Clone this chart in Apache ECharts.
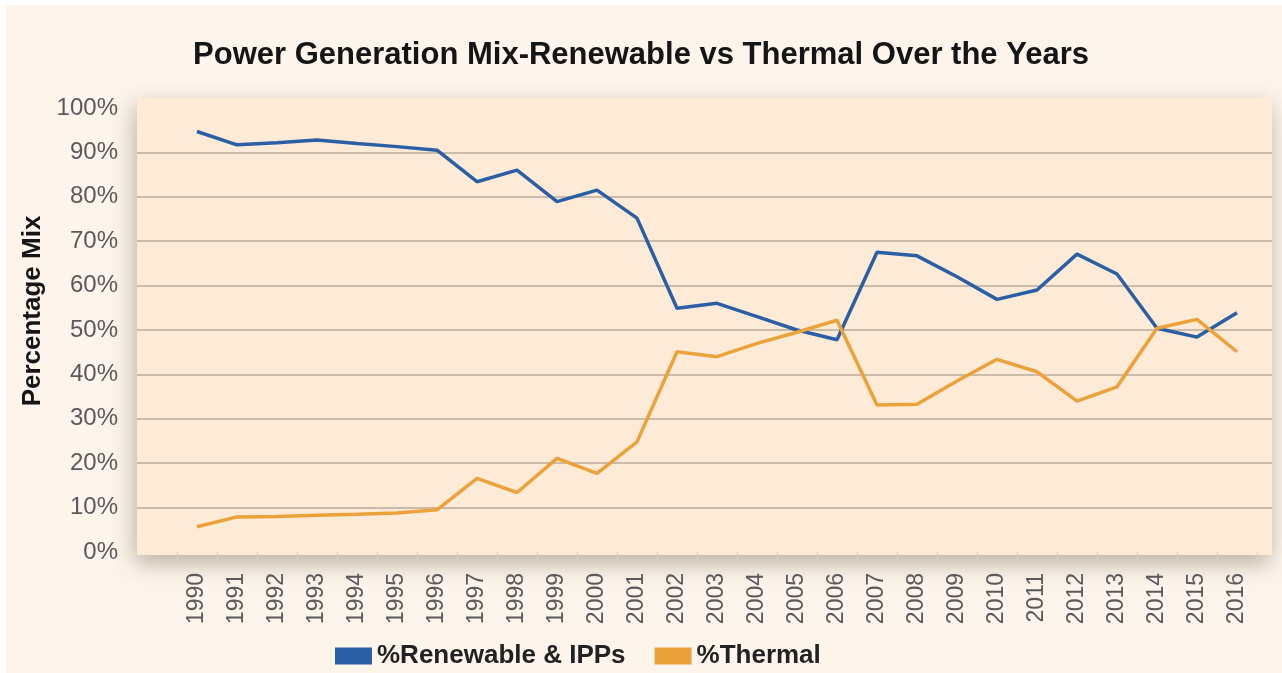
<!DOCTYPE html>
<html>
<head>
<meta charset="utf-8">
<script src="https://cdn.jsdelivr.net/npm/echarts@6/dist/echarts.min.js"></script>
<style>
  html, body { margin: 0; padding: 0; background: #ffffff; }
  #chart { width: 1282px; height: 673px; }
</style>
</head>
<body>
<div id="chart"></div>
<script>
var years = ['1990','1991','1992','1993','1994','1995','1996','1997','1998','1999','2000',
  '2001','2002','2003','2004','2005','2006','2007','2008','2009','2010','2011','2012',
  '2013','2014','2015','2016'];
var renewable = [94.7, 91.7, 92.2, 92.8, 92.0, 91.3, 90.5, 83.4, 86.0, 78.9, 81.5,
  75.2, 54.9, 56.0, 53.0, 50.0, 47.8, 67.5, 66.7, 62.0, 56.9, 59.0, 67.1,
  62.6, 50.4, 48.4, 53.9];
var thermal = [5.7, 7.9, 8.0, 8.3, 8.5, 8.8, 9.5, 16.6, 13.4, 21.1, 17.7,
  24.8, 45.1, 44.0, 47.0, 49.5, 52.2, 33.1, 33.3, 38.5, 43.4, 40.6, 34.0,
  37.2, 50.4, 52.4, 45.1];
var seriesNames = ['%Renewable & IPPs', '%Thermal'];

var font = 'Liberation Sans, Arial, sans-serif';
var myChart = echarts.init(document.getElementById('chart'));

var option = {
  backgroundColor: '#ffffff',
  graphic: [{
    type: 'rect',
    z: -10,
    shape: { x: 6, y: 5, width: 1282, height: 673 },
    style: { fill: '#fdf5ec' },
    silent: true
  }],
  title: {
    text: 'Power Generation Mix-Renewable vs Thermal Over the Years',
    left: 'center',
    top: 35,
    textStyle: { fontFamily: font, fontSize: 31, fontWeight: 'bold', color: '#151515' }
  },
  legend: {
    data: seriesNames,
    left: 330,
    top: 638,
    icon: 'rect',
    itemWidth: 37,
    itemHeight: 17,
    itemGap: 29,
    textStyle: { fontFamily: font, fontSize: 26, fontWeight: 'bold', color: '#222' }
  },
  grid: [
    { // axis labels + split lines
      left: 137, right: 10, top: 108, bottom: 121
    },
    { // series + year labels
      left: 177, right: 25, top: 108, bottom: 121
    },
    { // plot panel
      left: 137, right: 10, top: 98, bottom: 118,
      show: true, z: -1, borderWidth: 0,
      backgroundColor: '#fdebd7',
      shadowColor: 'rgba(60,40,20,0.35)', shadowBlur: 22, shadowOffsetX: -2, shadowOffsetY: 8
    }
  ],
  xAxis: [
    { gridIndex: 0, type: 'value', show: false },
    {
      gridIndex: 1,
      type: 'category',
      data: years,
      boundaryGap: true,
      axisLine: { show: false },
      axisTick: { show: true, length: 14, lineStyle: { color: '#d8d0c6', width: 1 } },
      axisLabel: { rotate: 90, margin: 21, fontFamily: font, fontSize: 23, color: '#5a5a5a' }
    },
    { gridIndex: 2, type: 'value', show: false }
  ],
  yAxis: [
    {
      gridIndex: 0,
      type: 'value',
      min: 0, max: 100, interval: 10,
      name: 'Percentage Mix',
      nameLocation: 'middle',
      nameRotate: 90,
      nameGap: 84,
      nameTextStyle: { fontFamily: font, fontSize: 26, fontWeight: 'bold', color: '#151515', padding: [0, 0, 0, 38] },
      axisLine: { show: false },
      axisTick: { show: false },
      axisLabel: { formatter: '{value}%', margin: 19, padding: [10, 0, 0, 0], fontFamily: font, fontSize: 24, color: '#5a5a5a' },
      splitLine: { show: true, showMinLine: false, showMaxLine: false, lineStyle: { color: '#b8ab9c', width: 1.5 } }
    },
    { gridIndex: 1, type: 'value', min: 0, max: 100, show: false },
    { gridIndex: 2, type: 'value', show: false }
  ],
  series: [
    {
      name: seriesNames[0],
      type: 'line',
      xAxisIndex: 1, yAxisIndex: 1,
      data: renewable,
      showSymbol: false,
      color: '#2a5fa6',
      lineStyle: { width: 3.5, color: '#2a5fa6' }
    },
    {
      name: seriesNames[1],
      type: 'line',
      xAxisIndex: 1, yAxisIndex: 1,
      data: thermal,
      showSymbol: false,
      color: '#eca23a',
      lineStyle: { width: 3.5, color: '#eca23a' }
    }
  ]
};
myChart.setOption(option);
</script>
</body>
</html>
